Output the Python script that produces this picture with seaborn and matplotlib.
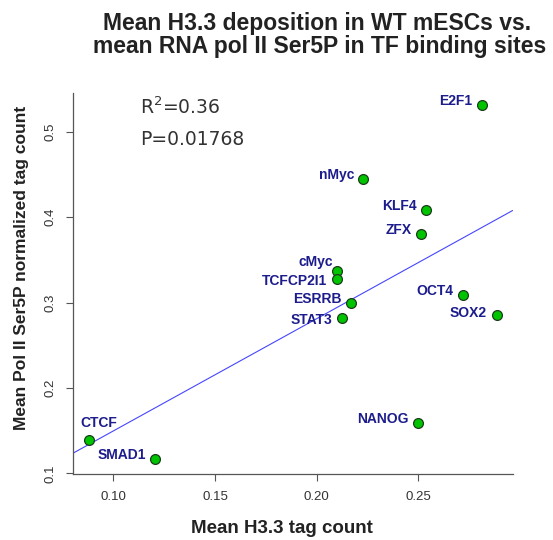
import pandas as pd
import matplotlib.pyplot as plt
import seaborn as sns

# Werte
tf_names = ["E2F1", "nMyc", "KLF4", "ZFX", "cMyc", "TCFCP2I1", "ESRRB",
            "STAT3", "OCT4", "SOX2", "NANOG", "CTCF", "SMAD1"]
h33_mean = [0.2812, 0.2230, 0.2537, 0.2512, 0.2099, 0.2099, 0.2168,
            0.2126, 0.2719, 0.2886, 0.2500, 0.0882, 0.1204]
pol2_mean = [0.5313, 0.4446, 0.4083, 0.3806, 0.3372, 0.3272, 0.2991,
             0.2815, 0.3088, 0.2850, 0.1585, 0.1390, 0.1164]
x_ticks = [0.10, 0.15, 0.20, 0.25]
y_ticks = [0.1, 0.2, 0.3, 0.4, 0.5]

df = pd.DataFrame({"tf": tf_names, "h33": h33_mean, "pol2": pol2_mean})

# Beschriftungs-Versatz in Punkten (Standard: links, leicht oberhalb)
label_offset = {"cMyc": (-2.9, 6.5), "TCFCP2I1": (-7.2, -1.2),
                "STAT3": (-7.2, -1.2), "SOX2": (-7.2, 1.5),
                "CTCF": (-6.2, 12.2)}

sns.set_theme(style="white")
plt.rcParams["font.family"] = ["Liberation Sans", "DejaVu Sans"]

fig = plt.figure(figsize=(5.53, 5.40), dpi=100)
ax = fig.add_axes([0.1326, 0.1222, 0.7944, 0.7061])

sns.scatterplot(data=df, x="h33", y="pol2", ax=ax, s=50, color="#00c400",
                edgecolor="#1b3d1b", linewidth=0.9, zorder=3)
ax.set_xlim(0.0803, 0.2965)
ax.set_ylim(0.0992, 0.5457)
sns.regplot(data=df, x="h33", y="pol2", ax=ax, scatter=False, ci=None,
            truncate=False, line_kws={"color": "#4646ff", "lw": 0.8})
ax.set_xlim(0.0803, 0.2965)
ax.set_ylim(0.0992, 0.5457)

for name, xv, yv in zip(tf_names, h33_mean, pol2_mean):
    off = label_offset.get(name, (-6.5, 3.0))
    ax.annotate(name, (xv, yv), xytext=off, textcoords="offset points",
                ha="left" if name == "CTCF" else "right", va="center",
                fontsize=10, fontweight="bold", color="#1c1c8c")

ax.set_xticks(x_ticks)
ax.set_xticklabels([f"{v:.2f}" for v in x_ticks])
ax.set_yticks(y_ticks)
ax.set_yticklabels([f"{v:.1f}" for v in y_ticks], rotation=90, va="center")
ax.tick_params(axis="both", direction="out", length=5, width=0.8,
               color="#555555", labelcolor="#333333", labelsize=9.5, pad=7,
               bottom=True, left=True)
sns.despine(ax=ax)
for sp in ["left", "bottom"]:
    ax.spines[sp].set_color("#555555")
    ax.spines[sp].set_linewidth(0.9)

ax.set_xlabel("Mean H3.3 tag count", fontsize=13.5, fontweight="bold",
              color="#222222")
ax.xaxis.set_label_coords(0.474, -0.12)
ax.set_ylabel("Mean Pol II Ser5P normalized tag count", fontsize=12.5,
              fontweight="bold", color="#222222")
ax.yaxis.set_label_coords(-0.101, 0.54)

ax.text(0.151, 0.943, "R$^2$=0.36", transform=ax.transAxes, fontsize=13.5,
        family="DejaVu Sans", color="#333333", va="baseline")
ax.text(0.151, 0.864, "P=0.01768", transform=ax.transAxes, fontsize=13.5,
        family="DejaVu Sans", color="#333333", va="baseline")

fig.text(0.573, 1 - 30 / 540, "Mean H3.3 deposition in WT mESCs vs.",
         ha="center", va="baseline", fontsize=16.5, fontweight="bold",
         color="#222222")
fig.text(0.578, 1 - 53 / 540, "mean RNA pol II Ser5P in TF binding sites",
         ha="center", va="baseline", fontsize=16.5, fontweight="bold",
         color="#222222")

fig.savefig("out.png", dpi=100)
